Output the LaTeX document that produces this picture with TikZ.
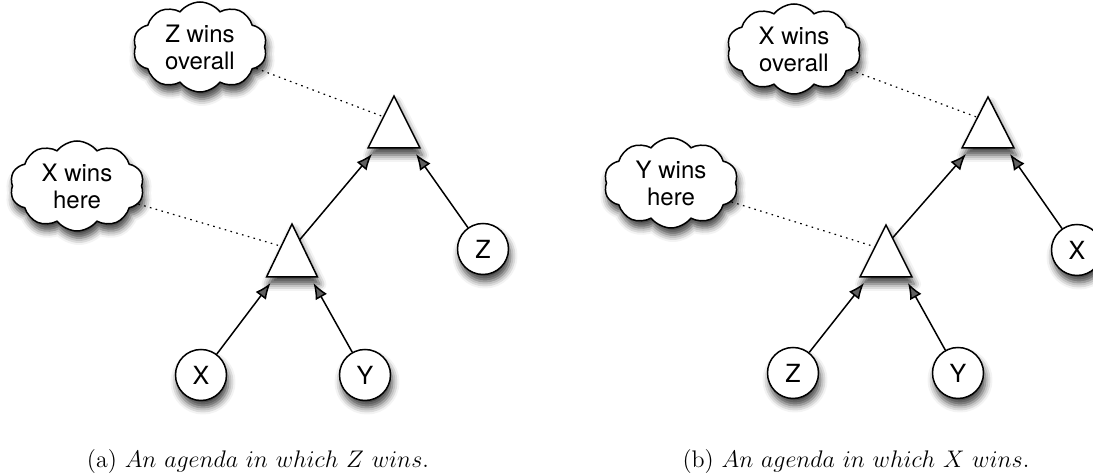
\documentclass[tikz,border=0pt]{standalone}
\usepackage{fontspec}
\setsansfont{TeX Gyre Heros}
\usetikzlibrary{shapes.symbols, shadows.blur, arrows.meta, calc}
\begin{document}
\begin{tikzpicture}[x=0.5pt,y=-0.5pt,
  shad/.style={blur shadow={shadow xshift=1pt, shadow yshift=-3.5pt, shadow blur radius=3.5pt, shadow opacity=75}},
  cloudbox/.style={cloud, cloud puffs=10, cloud puff arc=105, cloud ignores aspect, draw, line width=0.75pt, fill=white,
     minimum width=67pt, minimum height=45pt, inner sep=0pt, align=center,
     font=\sffamily\fontsize{12}{13.5}\selectfont, shad},
  agent/.style={circle, draw, line width=0.75pt, fill=white, minimum size=25.5pt, inner sep=0pt,
     font=\sffamily\fontsize{12.5}{14}\selectfont, shad},
  tri/.style={draw, line width=0.75pt, fill=white, line join=miter, shad},
  edge/.style={line width=0.75pt, -{Latex[length=8pt, width=6.5pt]}},
  note/.style={line width=0.6pt, dash pattern=on 0.8pt off 2.2pt},
  caption/.style={font=\fontsize{12}{14}\selectfont, anchor=base}
]
\useasboundingbox (0,0) rectangle (1093,474);
\clip (0,0) rectangle (1093,474);

% ---------------- panel (a) ----------------
\coordinate (aTa) at (394,96);
\coordinate (aTl) at (368,148);
\coordinate (aTr) at (420,148);
\coordinate (aBa) at (292,224);
\coordinate (aBl) at (266.5,277);
\coordinate (aBr) at (317.5,277);
\draw[tri] (aTa) -- (aTl) -- (aTr) -- cycle;
\draw[tri] (aBa) -- (aBl) -- (aBr) -- cycle;

\node[agent] (aZ) at (483,249) {Z};
\node[agent] (aX) at (201,375) {X};
\node[agent] (aY) at (365,375) {Y};

\node[cloudbox] (aC1) at (200,47) {Z wins\\overall};
\node[cloudbox] (aC2) at (77,186) {X wins\\here};

\coordinate (aTlt) at ($(aTl)+(4,6)$);
\coordinate (aTrt) at ($(aTr)+(-4,6)$);
\coordinate (aBlt) at ($(aBl)+(4,6)$);
\coordinate (aBrt) at ($(aBr)+(-4,6)$);
\coordinate (aBs) at ($(aBa)!0.3!(aBr)$);
\coordinate (aTside) at ($(aTa)!0.4!(aTl)$);
\coordinate (aBside) at ($(aBa)!0.42!(aBl)$);

\draw[edge] (aBs) -- (aTlt);
\draw[edge] (aZ) -- (aTrt);
\draw[edge] (aX) -- (aBlt);
\draw[edge] (aY) -- (aBrt);
\draw[note] (aC1) -- (aTside);
\draw[note] (aC2) -- (aBside);

\node[caption] (capa) at (258,468) {(a) $An\ agenda\ in\ which\ Z\ wins.$};

% ---------------- panel (b) ----------------
\coordinate (bTa) at (988,97);
\coordinate (bTl) at (962,148);
\coordinate (bTr) at (1014,148);
\coordinate (bBa) at (886,225);
\coordinate (bBl) at (860,277);
\coordinate (bBr) at (912,277);
\draw[tri] (bTa) -- (bTl) -- (bTr) -- cycle;
\draw[tri] (bBa) -- (bBl) -- (bBr) -- cycle;

\node[agent] (bX) at (1077,250) {X};
\node[agent] (bZ) at (793,373) {Z};
\node[agent] (bY) at (958,373) {Y};

\node[cloudbox] (bC1) at (794,49) {X wins\\overall};
\node[cloudbox] (bC2) at (671,183) {Y wins\\here};

\coordinate (bTlt) at ($(bTl)+(4,6)$);
\coordinate (bTrt) at ($(bTr)+(-4,6)$);
\coordinate (bBlt) at ($(bBl)+(4,6)$);
\coordinate (bBrt) at ($(bBr)+(-4,6)$);
\coordinate (bBs) at ($(bBa)!0.25!(bBr)$);
\coordinate (bTside) at ($(bTa)!0.4!(bTl)$);
\coordinate (bBside) at ($(bBa)!0.42!(bBl)$);

\draw[edge] (bBs) -- (bTlt);
\draw[edge] (bX) -- (bTrt);
\draw[edge] (bZ) -- (bBlt);
\draw[edge] (bY) -- (bBrt);
\draw[note] (bC1) -- (bTside);
\draw[note] (bC2) -- (bBside);

\node[caption] (capb) at (856,468) {(b) $An\ agenda\ in\ which\ X\ wins.$};
\end{tikzpicture}
\end{document}
